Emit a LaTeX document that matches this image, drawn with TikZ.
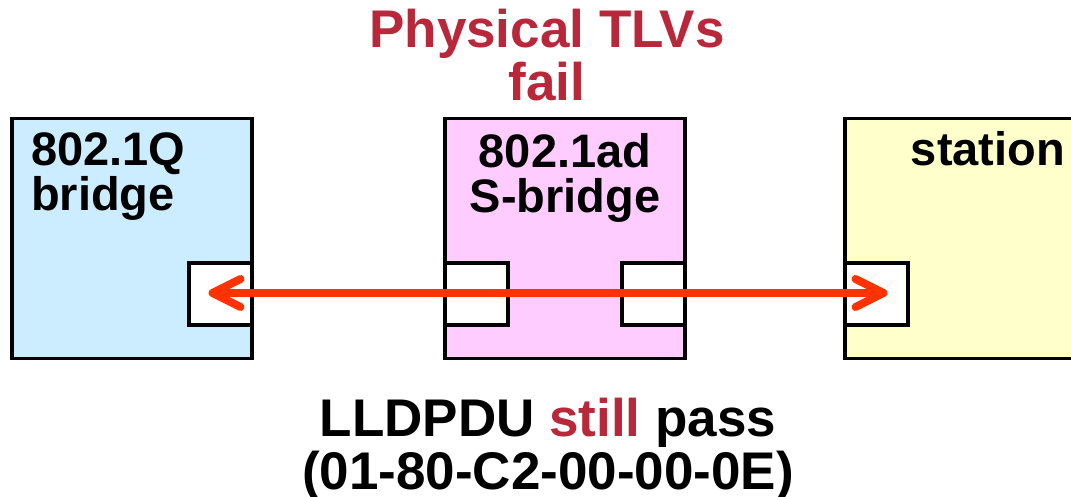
\documentclass[tikz,border=0pt]{standalone}
\usepackage{fontspec}
\setmainfont{Liberation Sans}
\usepackage{tikz}
\usetikzlibrary{arrows.meta,positioning,calc}
\definecolor{boxBlue}{RGB}{204,236,255}
\definecolor{boxPink}{RGB}{255,204,255}
\definecolor{boxYellow}{RGB}{255,255,204}
\definecolor{arrowRed}{RGB}{255,51,0}
\definecolor{textRed}{RGB}{184,40,58}

\begin{document}
\begin{tikzpicture}[x=1pt,y=1pt,
        devbox/.style={draw=black, line width=3.5pt, minimum height=239.5pt, inner sep=0pt},
        portbox/.style={draw=black, fill=white, line width=3.5pt, minimum width=63pt, minimum height=62pt, inner sep=0pt},
        boxlabel/.style={font=\fontsize{47pt}{45pt}\selectfont\bfseries, inner sep=0pt},
        caption/.style={font=\fontsize{53pt}{53pt}\selectfont\bfseries, align=center, inner sep=0pt},
        barb/.tip={Straight Barb[length=28pt,width=28pt,line cap=round,line join=round]}]
    \clip (0,0) rectangle (1071,496);
    % devices
    \node[devbox, fill=boxBlue, minimum width=240pt] (qbox) at (132,257.5) {};
    \node[devbox, fill=boxPink, minimum width=240pt] (sbox) at (565,257.5) {};
    \node[devbox, fill=boxYellow, minimum width=300pt] (stbox) at (995,257.5) {};
    % ports
    \node[portbox, anchor=east] (qport) at ([yshift=-55.5pt]qbox.east) {};
    \node[portbox, anchor=west] (sportL) at ([yshift=-55.5pt]sbox.west) {};
    \node[portbox, anchor=east] (sportR) at ([yshift=-55.5pt]sbox.east) {};
    \node[portbox, anchor=west] (stport) at ([yshift=-55.5pt]stbox.west) {};
    % labels
    \node[boxlabel, align=left, anchor=north west] (qlabel) at (31,364) {802.1Q\\bridge};
    \node[boxlabel, align=center, anchor=north] (slabel) at (565,363) {802.1ad\\S-bridge};
    \node[boxlabel, anchor=base] (stlabel) at (988,330) {station};
    % LLDPDU path
    \draw[arrowRed, line width=8pt, barb-barb] ([xshift=-12pt,yshift=1pt]qport.center) -- ([xshift=11pt,yshift=1pt]stport.center);
    \node[caption, text=textRed] (fail) at (547,441) {Physical TLVs\\fail};
    \node[caption] (pass) at (548,47) {LLDPDU {\color{textRed}still} pass\\(01-80-C2-00-00-0E)};
\end{tikzpicture}
\end{document}
